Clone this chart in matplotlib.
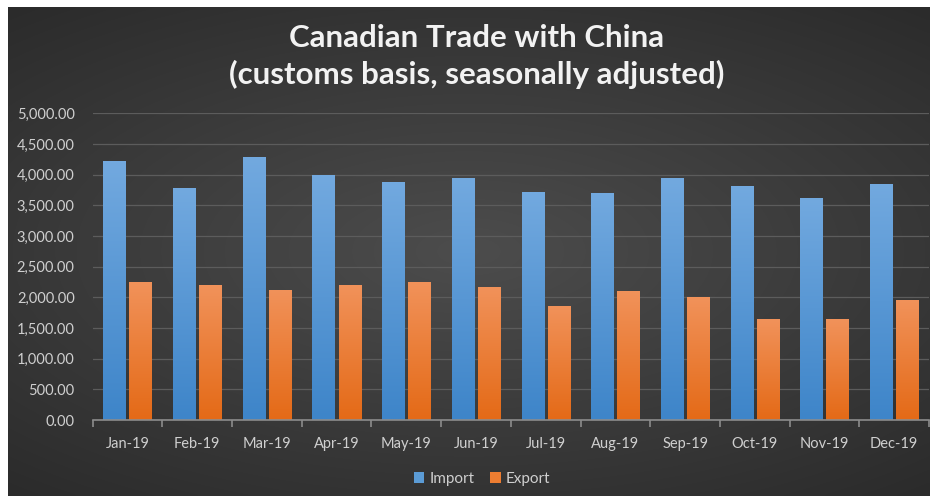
import numpy as np
import matplotlib

matplotlib.use("Agg")
import matplotlib.pyplot as plt


MONTHS = ["Jan-19", "Feb-19", "Mar-19", "Apr-19", "May-19", "Jun-19",
          "Jul-19", "Aug-19", "Sep-19", "Oct-19", "Nov-19", "Dec-19"]
IMPORTS = [4215, 3790, 4290, 3990, 3885, 3940, 3715, 3700, 3940, 3815, 3625, 3850]
EXPORTS = [2250, 2195, 2120, 2205, 2250, 2175, 1860, 2100, 2005, 1645, 1645, 1960]
Y_TICKS = [0, 500, 1000, 1500, 2000, 2500, 3000, 3500, 4000, 4500, 5000]

W, H = 933, 496
FONT = ["Lato", "DejaVu Sans"]
TEXT_GREY = "#cfcfcf"


def radial_background(fig):
    # dark panel with a soft lighter centre
    bg = fig.add_axes([8 / W, 0, (930 - 8) / W, (H - 7) / H], zorder=-10)
    yy, xx = np.mgrid[-1:1:200j, -1:1:400j]
    r = np.sqrt((xx * 0.85) ** 2 + (yy * 1.0) ** 2)
    shade = 0.30 - 0.13 * np.clip(r, 0, 1.3) / 1.3
    img = np.dstack([shade, shade, shade])
    bg.imshow(img, aspect="auto", extent=[0, 1, 0, 1], interpolation="bicubic")
    bg.set_axis_off()


def gradient_bars(ax, bars, top_rgb, bottom_rgb):
    grad = np.linspace(0, 1, 64)[:, None, None]
    top = np.array(top_rgb)[None, None, :]
    bot = np.array(bottom_rgb)[None, None, :]
    img = top * (1 - grad) + bot * grad
    for bar in bars:
        x, w, h = bar.get_x(), bar.get_width(), bar.get_height()
        im = ax.imshow(img, extent=[x, x + w, 0, h], aspect="auto", zorder=3,
                       interpolation="bilinear")
        im.set_clip_path(bar)


def hex_rgb(c):
    return np.array(matplotlib.colors.to_rgb(c))


fig = plt.figure(figsize=(W / 100, H / 100), dpi=100, facecolor="white")
radial_background(fig)

ax = fig.add_axes([92.7 / W, (H - 420) / H, (929 - 92.7) / W, (420 - 113.3) / H])
ax.set_facecolor("none")

x = np.arange(len(MONTHS))
width = 0.32
offset = 0.187
imp = ax.bar(x - offset, IMPORTS, width, color="#5b9bd5", zorder=2, label="Import")
exp = ax.bar(x + offset, EXPORTS, width, color="#ed7d31", zorder=2, label="Export")
gradient_bars(ax, imp, hex_rgb("#72a9df"), hex_rgb("#3e85c9"))
gradient_bars(ax, exp, hex_rgb("#f1925a"), hex_rgb("#e46a17"))

ax.set_xlim(-0.5, len(MONTHS) - 0.5)
ax.set_ylim(0, 5000)
ax.set_yticks(Y_TICKS)
ax.set_yticklabels([f"{v:,.2f}" for v in Y_TICKS])
ax.set_xticks(x)
ax.set_xticklabels(MONTHS)
ax.set_xticks(np.arange(len(MONTHS) + 1) - 0.5, minor=True)

ax.grid(axis="y", color="#5c5c5c", linewidth=0.9, zorder=0)
for side in ["top", "right", "left"]:
    ax.spines[side].set_visible(False)
ax.spines["bottom"].set_color("#8c8c8c")
ax.spines["bottom"].set_linewidth(1.2)
ax.spines["bottom"].set_zorder(4)

ax.tick_params(axis="y", length=0, pad=13, labelsize=10.5, labelcolor=TEXT_GREY)
ax.tick_params(axis="x", which="major", length=0, pad=12, labelsize=10.5, labelcolor=TEXT_GREY)
ax.tick_params(axis="x", which="minor", length=5, width=1.2, color="#8c8c8c", direction="out")
for lbl in ax.get_xticklabels() + ax.get_yticklabels():
    lbl.set_family(FONT)

fig.text(477 / W, 1 - 38 / H, "Canadian Trade with China", ha="center", va="center",
         color="#f2f2f2", fontsize=22.5, fontweight="bold", family=FONT)
fig.text(477 / W, 1 - 74 / H, "(customs basis, seasonally adjusted)", ha="center", va="center",
         color="#f2f2f2", fontsize=22.5, fontweight="bold", family=FONT)

leg = fig.legend(handles=[imp, exp], labels=["Import", "Export"], loc="center",
                 bbox_to_anchor=(482 / W, 1 - 479 / H), ncol=2, frameon=False,
                 handlelength=0.7, handleheight=0.7, handletextpad=0.35, columnspacing=1.0,
                 prop={"family": FONT, "size": 11})
for t in leg.get_texts():
    t.set_color(TEXT_GREY)

fig.savefig("out.png", dpi=100, facecolor="white")
